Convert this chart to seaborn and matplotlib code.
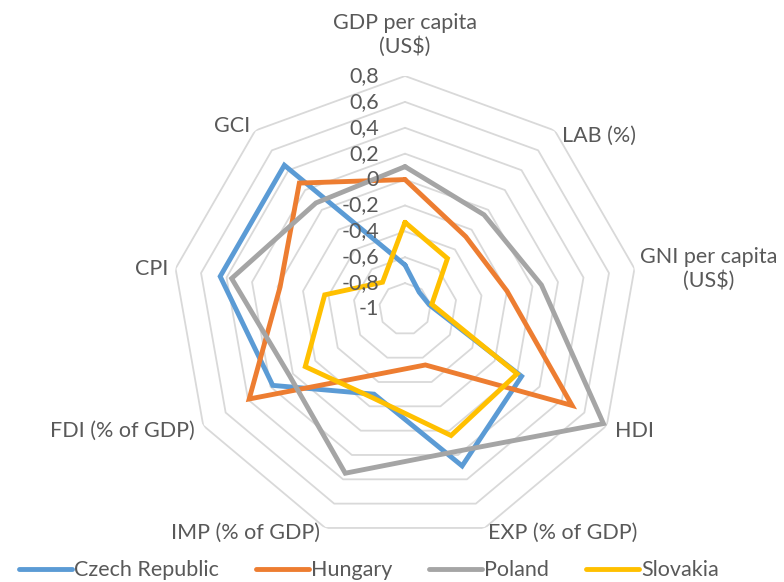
import numpy as np
import pandas as pd
import matplotlib
matplotlib.use("Agg")
import matplotlib.pyplot as plt
import seaborn as sns

# datos
categorias = ["GDP per capita\n(US$)", "LAB (%)", "GNI per capita\n(US$)", "HDI",
              "EXP (% of GDP)", "IMP (% of GDP)", "FDI (% of GDP)", "CPI", "GCI"]
paises = ["Czech Republic", "Hungary", "Poland", "Slovakia"]
czech = [-0.66, -0.83, -0.81, 0.04, 0.29, -0.30, 0.18, 0.45, 0.45]
hungary = [0.0, -0.27, -0.20, 0.49, -0.54, -0.47, 0.39, -0.02, 0.27]
poland = [0.10, -0.05, 0.07, 0.77, 0.17, 0.35, 0.03, 0.36, 0.07]
slovakia = [-0.33, -0.49, -0.79, 0.0, 0.04, -0.27, -0.11, -0.37, -0.73]
niveles = [-1, -0.8, -0.6, -0.4, -0.2, 0, 0.2, 0.4, 0.6, 0.8]
etiquetas_niveles = ["-1", "-0,8", "-0,6", "-0,4", "-0,2", "0", "0,2", "0,4", "0,6", "0,8"]

colores = ["#5B9BD5", "#ED7D31", "#A5A5A5", "#FFC000"]
gris_texto = "#595959"
fs = 15.5

sns.set_theme(style="white")
plt.rcParams["font.family"] = ["Lato", "DejaVu Sans"]

n = len(categorias)
angulos = np.linspace(0, 2 * np.pi, n, endpoint=False)
ang_cerrado = np.append(angulos, 2 * np.pi)

filas = []
for pais, valores in zip(paises, [czech, hungary, poland, slovakia]):
    vals = list(valores) + [valores[0]]
    for a, v in zip(ang_cerrado, vals):
        filas.append({"pais": pais, "theta": a, "valor": v})
df = pd.DataFrame(filas)

fig = plt.figure(figsize=(7.84, 5.82), dpi=100)
ax = fig.add_axes([0.2194, 0.0687, 0.5944, 0.8007], projection="polar")
ax.set_theta_offset(np.pi / 2)
ax.set_theta_direction(-1)
ax.set_rlim(-1, 0.8)
ax.grid(False)
ax.spines["polar"].set_visible(False)
ax.patch.set_alpha(0)

# anillos poligonales
for nv in niveles[1:]:
    ax.plot(ang_cerrado, [nv] * (n + 1), color="#D9D9D9", lw=1.3, zorder=1)

sns.lineplot(data=df, x="theta", y="valor", hue="pais", palette=colores,
             sort=False, estimator=None, linewidth=3.5, ax=ax, legend=False, zorder=3)
for ln in ax.lines[-4:]:
    ln.set_solid_joinstyle("miter")
ax.set_xlabel("")
ax.set_ylabel("")
ax.set_xticks([])
ax.set_yticks([])
ax.set_rlim(-1, 0.8)

# etiquetas de escala
for nv, et in zip(niveles, etiquetas_niveles):
    ax.annotate(et, xy=(0, nv), xytext=(-26, 0), textcoords="offset pixels",
                ha="right", va="center", fontsize=fs, color=gris_texto, zorder=4)

# etiquetas de categorias
posiciones = [((0, 19), "center", "bottom"), ((7, -5), "left", "center"),
              ((6, 0), "left", "center"), ((8, -5), "left", "center"),
              ((3, -5), "left", "center"), ((-5, -5), "right", "center"),
              ((-8, -5), "right", "center"), ((-7, 0), "right", "center"),
              ((-5, 5), "right", "center")]
for a, cat, (off, ha, va) in zip(angulos, categorias, posiciones):
    ax.annotate(cat, xy=(a, 0.8), xytext=off, textcoords="offset pixels",
                ha=ha, va=va, multialignment="center", fontsize=fs, color=gris_texto)

handles = [plt.Line2D([], [], color=c, lw=3.5, solid_capstyle="round") for c in colores]
fig.legend(handles, paises, loc="lower left", bbox_to_anchor=(0.0, -0.03), ncol=4,
           frameon=False, fontsize=fs, handlelength=2.45, handletextpad=0.1,
           columnspacing=1.72, labelcolor=gris_texto)

fig.savefig("out.png", dpi=100)
